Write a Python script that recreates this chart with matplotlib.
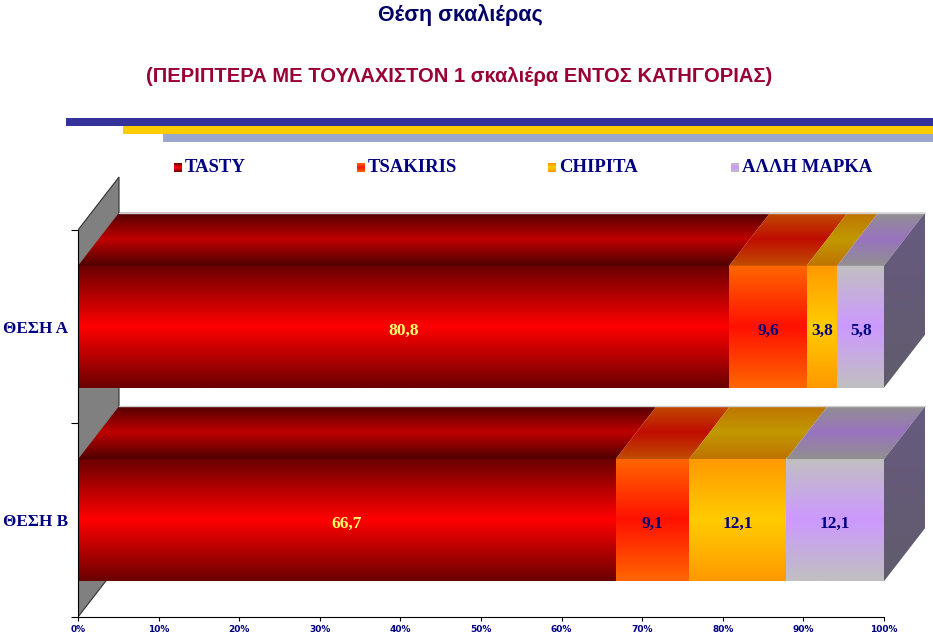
import numpy as np
import matplotlib
matplotlib.use('Agg')
import matplotlib.pyplot as plt
from matplotlib.patches import Polygon, Rectangle
from matplotlib.colors import to_rgb

# ---------------- data ----------------
categories = ['ΘΕΣΗ Α', 'ΘΕΣΗ Β']
series = ['TASTY', 'TSAKIRIS', 'CHIPITA', 'ΑΛΛΗ ΜΑΡΚΑ']
tasty = [80.8, 66.7]
tsakiris = [9.6, 9.1]
chipita = [3.8, 12.1]
alli = [5.8, 12.1]
series_values = [tasty, tsakiris, chipita, alli]
xtick_values = [0, 10, 20, 30, 40, 50, 60, 70, 80, 90, 100]
xtick_labels = [f'{v}%' for v in xtick_values]
title = 'Θέση σκαλιέρας'
subtitle = '(ΠΕΡΙΠΤΕΡΑ ΜΕ ΤΟΥΛΑΧΙΣΤΟΝ 1 σκαλιέρα ΕΝΤΟΣ ΚΑΤΗΓΟΡΙΑΣ)'

# ---------------- style ----------------
front_edge = ['#6a0000', '#ff6600', '#ff9900', '#c0c0c0']
front_mid = ['#ff0000', '#ff1100', '#ffcc00', '#cc99ff']
label_colors = ['#ffff66', '#000080', '#000080', '#000080']
NAVY = '#000080'
SERIF = 'Liberation Serif'
SANS = 'Liberation Sans'

W, H = 933, 644
fig = plt.figure(figsize=(W / 100, H / 100), dpi=100)

X0, X1 = 78, 884        # pixel positions of 0% and 100%
Y0 = 617                # pixel of floor
PXU = 193.5             # pixels per category band
PPX = (X1 - X0) / 100.0  # pixels per percent
ax = fig.add_axes([X0 / W, (H - Y0) / H, (932 - X0) / W, 445 / H])
ax.patch.set_visible(False)

DX = 41 / PPX
DY = 53 / PXU
HALF = 61 / PXU


def grad(edge, mid, factor=1.0, n=96):
    t = np.linspace(0, 1, n)
    w = 1 - np.abs(2 * t - 1)
    e = np.array(to_rgb(edge))
    m = np.array(to_rgb(mid))
    c = (e[None, :] * (1 - w[:, None]) + m[None, :] * w[:, None]) * factor
    return np.clip(c[:, None, :], 0, 1)


def grad_lin(top, bottom, n=96):
    t = np.linspace(0, 1, n)[:, None]
    a = np.array(to_rgb(top))
    b = np.array(to_rgb(bottom))
    return (a * (1 - t) + b * t)[:, None, :]


ncat = len(categories)
# wall
wall = Polygon([(0, 0), (0, ncat), (DX, ncat + DY), (DX, DY)], closed=True,
               facecolor='#808080', edgecolor='#303030', lw=0.8, zorder=1)
ax.add_patch(wall)

centers = [ncat - i - 0.5 for i in range(ncat)]
for i, c in enumerate(centers):
    left = 0.0
    yb, yt = c - HALF, c + HALF
    for j, vals in enumerate(series_values):
        v = vals[i]
        x0, x1 = left, left + v
        # front face
        ax.imshow(grad(front_edge[j], front_mid[j]), extent=(x0, x1, yb, yt),
                  aspect='auto', interpolation='bilinear', zorder=3)
        # top face
        poly = Polygon([(x0, yt), (x1, yt), (x1 + DX, yt + DY), (x0 + DX, yt + DY)],
                       closed=True, facecolor='none', edgecolor='none', zorder=3)
        ax.add_patch(poly)
        im = ax.imshow(grad(front_edge[j], front_mid[j], 0.75),
                       extent=(x0, x1 + DX, yt, yt + DY),
                       aspect='auto', interpolation='bilinear', zorder=3)
        im.set_clip_path(poly)
        # value label
        ax.text((x0 + x1) / 2, c - 0.02, f'{v:.1f}'.replace('.', ','),
                ha='center', va='center', fontsize=12.5, fontweight='bold',
                family=SERIF, color=label_colors[j], zorder=5)
        left = x1
    # back edge line of top face
    ax.plot([DX, left + DX], [yt + DY, yt + DY], color='#d0d0d0', lw=1, zorder=4)
    # right side face
    side = Polygon([(left, yb), (left, yt), (left + DX, yt + DY), (left + DX, yb + DY)],
                   closed=True, facecolor='none', edgecolor='none', zorder=3)
    ax.add_patch(side)
    im = ax.imshow(grad_lin('#675a80', '#615c6c'), extent=(left, left + DX, yb, yt + DY),
                   aspect='auto', interpolation='bilinear', zorder=3)
    im.set_clip_path(side)

ax.set_xlim(0, (932 - X0) / PPX)
ax.set_ylim(0, 445 / PXU)

for s in ['top', 'right']:
    ax.spines[s].set_visible(False)
ax.spines['left'].set_bounds(0, ncat)
ax.spines['bottom'].set_bounds(0, 100)
ax.spines['left'].set_zorder(6)
ax.spines['bottom'].set_zorder(6)

ax.set_xticks(xtick_values)
ax.set_xticklabels(xtick_labels)
ax.tick_params(axis='x', length=3, width=0.8, pad=2.5, labelsize=6.5,
               labelcolor=NAVY)
for lab in ax.get_xticklabels():
    lab.set_fontweight('bold')
    lab.set_family('DejaVu Sans')

ax.set_yticks(list(range(ncat + 1)))
ax.set_yticklabels([''] * (ncat + 1))
ax.tick_params(axis='y', which='major', length=5, width=0.8)
ax.set_yticks(centers, minor=True)
ax.set_yticklabels(categories, minor=True)
ax.tick_params(axis='y', which='minor', length=0, pad=7, labelsize=12.3,
               labelcolor=NAVY)
for lab in ax.get_yticklabels(minor=True):
    lab.set_fontweight('bold')
    lab.set_family(SERIF)

# ---------------- overlay: titles, bands, legend ----------------
ov = fig.add_axes([0, 0, 1, 1], zorder=-1)
ov.axis('off')
ov.add_patch(Rectangle((66, 118), W - 66, 8, facecolor='#333399', edgecolor='none'))
ov.add_patch(Rectangle((123, 126), W - 123, 8, facecolor='#ffcc00', edgecolor='none'))
ov.add_patch(Rectangle((163, 134), W - 163, 8, facecolor='#99a8cc', edgecolor='none'))

ov.text(460, 15, title, ha='center', va='center', fontsize=15.5, fontweight='bold',
        color='#000066', family=SANS)
ov.text(459, 76, subtitle, ha='center', va='center', fontsize=14.5,
        fontweight='bold', color='#990033', family=SANS)

leg_x = [174, 357, 548, 731]
for j, name in enumerate(series):
    x = leg_x[j]
    ov.imshow(grad(front_edge[j], front_mid[j]), extent=(x, x + 8, 172, 163),
              aspect='auto', interpolation='bilinear')
    ov.text(x + 11, 167.5, name, ha='left', va='center', fontsize=13.5,
            fontweight='bold', color=NAVY, family=SERIF)

ov.set_xlim(0, W)
ov.set_ylim(H, 0)

fig.savefig('out.png', dpi=100)
